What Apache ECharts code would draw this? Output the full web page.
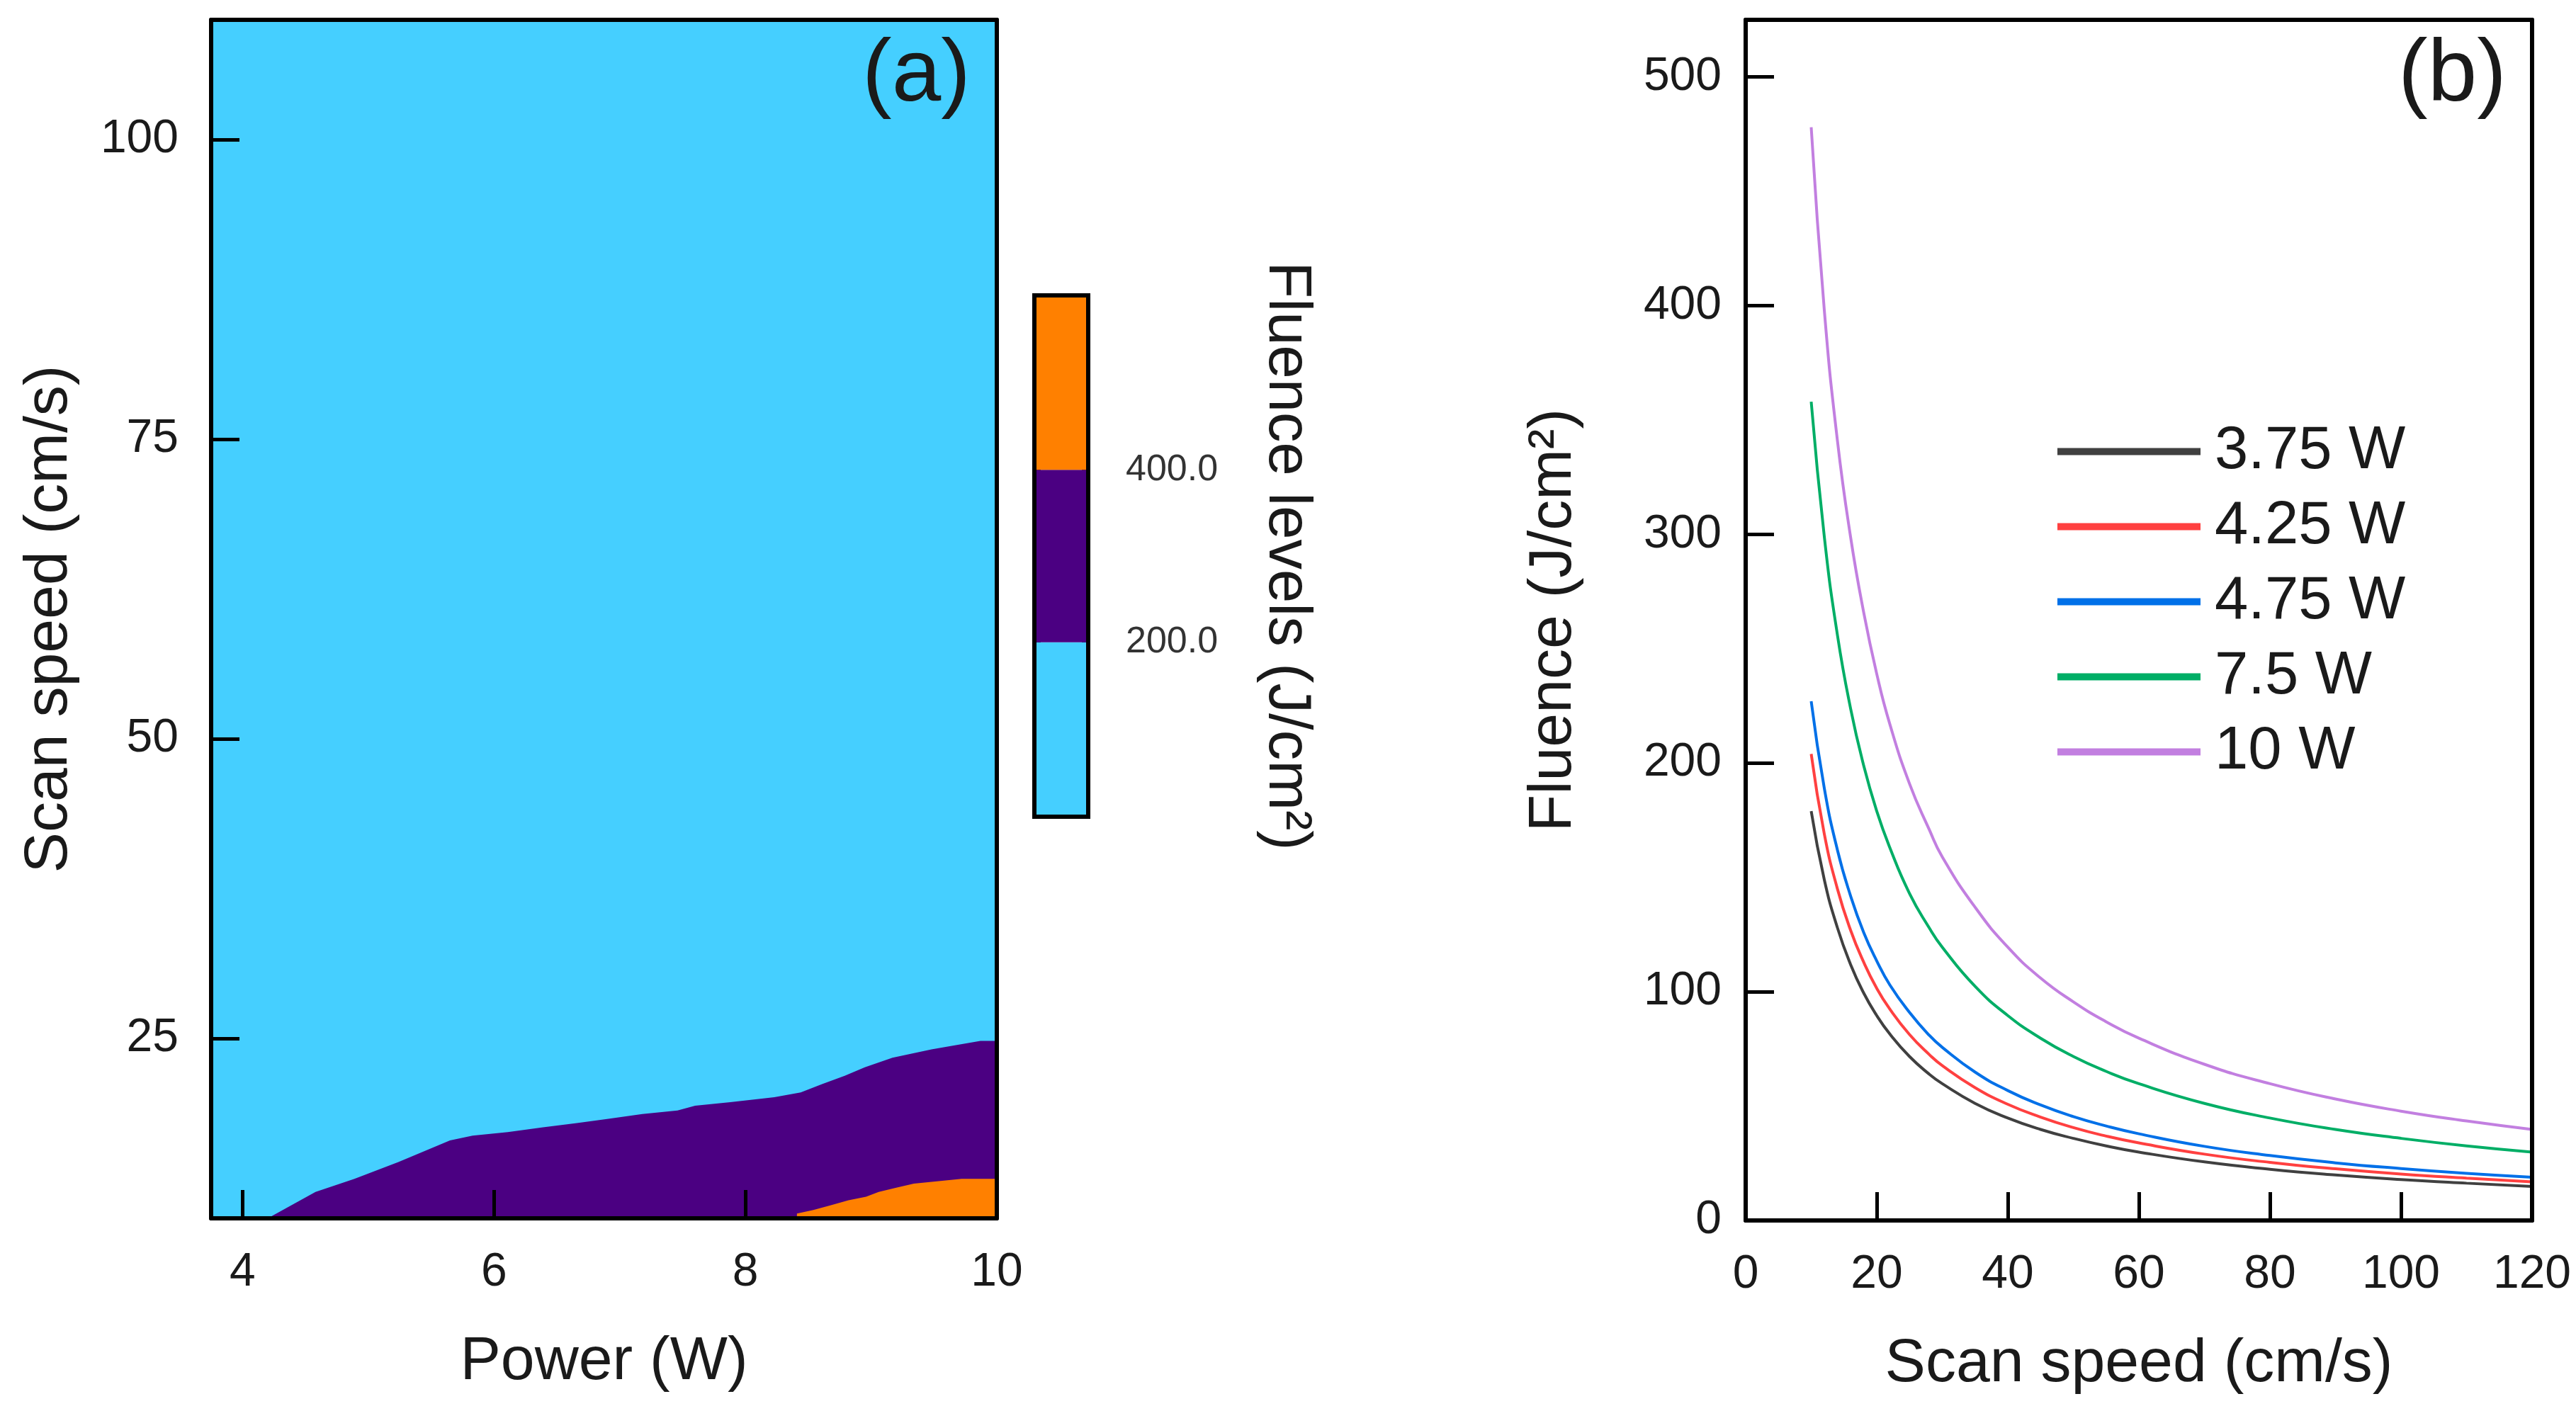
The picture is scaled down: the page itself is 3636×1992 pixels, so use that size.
<!DOCTYPE html>
<html>
<head>
<meta charset="utf-8">
<script src="https://cdn.jsdelivr.net/npm/echarts@6/dist/echarts.min.js"></script>
<style>
  html, body { margin: 0; padding: 0; background: #ffffff; }
  #main { width: 3636px; height: 1992px; }
</style>
</head>
<body>
<div id="main"></div>
<script>
// panel (a): contour boundaries, [power W, scan speed cm/s]
var powerTicks = [4, 6, 8, 10];
var speedTicksA = [25, 50, 75, 100];
var boundary200 = [
    [4.20, 10], [4.58, 12.2], [4.89, 13.3], [5.24, 14.7], [5.65, 16.5], [5.83, 16.9],
    [6.11, 17.2], [6.39, 17.6], [6.66, 17.95], [6.91, 18.3], [7.18, 18.7], [7.46, 19.0],
    [7.60, 19.4], [7.88, 19.7], [8.23, 20.1], [8.44, 20.5], [8.61, 21.2], [8.79, 21.9],
    [8.95, 22.6], [9.17, 23.4], [9.48, 24.1], [9.65, 24.4], [9.87, 24.8], [10, 24.8]
];
var boundary400 = [
    [8.41, 10], [8.41, 10.4], [8.54, 10.7], [8.68, 11.1], [8.82, 11.5], [8.96, 11.8],
    [9.06, 12.2], [9.20, 12.55], [9.34, 12.9], [9.72, 13.3], [10, 13.3]
];
// colour bar levels
var levelSteps = [200, 200, 200];
var levelTicks = [200, 400];
var levelColors = ['#45cfff', '#4b0082', '#ff8000'];

// panel (b): fluence vs scan speed
var scanSpeeds = [10, 12, 14, 16, 18, 20, 22, 25, 28, 30, 35, 40, 45, 50, 55, 60, 70, 80, 90, 100, 110, 120];
var seriesNames = ['3.75 W', '4.25 W', '4.75 W', '7.5 W', '10 W'];
var fluence375 = [179, 149, 128, 112, 99.5, 89.6, 81.5, 71.7, 64, 59.8, 51.2, 44.8, 39.8, 35.9, 32.6, 29.9, 25.6, 22.4, 19.9, 17.9, 16.3, 14.9];
var fluence425 = [204, 169, 145, 127, 113, 101.5, 92.4, 81.3, 72.6, 67.7, 58.1, 50.8, 45.2, 40.6, 36.9, 33.9, 29, 25.4, 22.6, 20.3, 18.5, 16.9];
var fluence475 = [227, 189, 162, 142, 126, 113.5, 103, 91, 81, 75.7, 64.9, 56.8, 50.5, 45.4, 41.3, 37.9, 32.4, 28.4, 25.2, 22.7, 20.6, 18.9];
var fluence75 = [358, 299, 256, 224, 199, 179, 163, 143, 128, 119.5, 102.4, 89.6, 79.7, 71.7, 65.2, 59.8, 51.2, 44.8, 39.8, 35.9, 32.6, 29.9];
var fluence10 = [478, 398, 341, 299, 266, 239, 217, 191, 171, 159, 137, 119.5, 106, 95.6, 86.9, 79.7, 68.3, 59.8, 53.1, 47.8, 43.5, 39.8];
var fluenceTicks = [0, 100, 200, 300, 400, 500];
var speedTicksB = [0, 20, 40, 60, 80, 100, 120];
var lineColors = ['#404040', '#ff4040', '#0070e8', '#00ae66', '#c27fe0'];

var FONT = '"Liberation Sans", Arial, sans-serif';
var TXT = '#1a1a1a';

function pairs(xs, ys) {
    return xs.map(function (x, i) { return [x, ys[i]]; });
}

function boxAxis(gridIndex, position, min, max) {
    return {
        gridIndex: gridIndex, type: 'value', position: position, min: min, max: max, z: 10,
        axisLine: { show: true, onZero: false, lineStyle: { color: '#000', width: 6 } },
        axisTick: { show: false }, axisLabel: { show: false }, splitLine: { show: false }
    };
}

function mainAxis(gridIndex, position, min, max, ticks, name, nameGap, nameRotate, labelMargin) {
    return {
        gridIndex: gridIndex, type: 'value', position: position, min: min, max: max, z: 10,
        name: name, nameLocation: 'middle', nameGap: nameGap, nameRotate: nameRotate,
        nameTextStyle: { fontFamily: FONT, fontSize: 86, color: TXT },
        axisLine: { show: true, onZero: false, lineStyle: { color: '#000', width: 6 } },
        axisTick: { show: true, inside: true, length: 40, customValues: ticks, lineStyle: { color: '#000', width: 5 } },
        axisLabel: { customValues: ticks, margin: labelMargin, fontFamily: FONT, fontSize: 66, color: TXT },
        splitLine: { show: false }
    };
}

var chart = echarts.init(document.getElementById('main'));

var lineSeries = [fluence375, fluence425, fluence475, fluence75, fluence10].map(function (vals, i) {
    return {
        name: seriesNames[i], type: 'line', xAxisIndex: 2, yAxisIndex: 2,
        data: pairs(scanSpeeds, vals), smooth: true, showSymbol: false, symbol: 'none',
        lineStyle: { color: lineColors[i], width: 4 }, itemStyle: { color: lineColors[i] }
    };
});

var option = {
    backgroundColor: '#ffffff',
    animation: false,
    title: [
        { text: '(a)', left: 1212, top: 40, textStyle: { fontFamily: FONT, fontSize: 125, fontWeight: 'normal', color: TXT } },
        { text: '(b)', left: 3380, top: 40, textStyle: { fontFamily: FONT, fontSize: 125, fontWeight: 'normal', color: TXT } }
    ],
    grid: [
        { left: 298, top: 28, width: 1109, height: 1692, show: true, backgroundColor: levelColors[0], borderWidth: 0 },
        { left: 2464, top: 28, width: 1110, height: 1695 },
        { left: 1463, top: 420, width: 70, height: 730, show: true, borderColor: '#000', borderWidth: 12, backgroundColor: 'transparent' }
    ],
    legend: {
        orient: 'vertical', left: 2899, top: 590, itemWidth: 202, itemHeight: 10, itemGap: 21,
        icon: 'rect', data: seriesNames,
        textStyle: { fontFamily: FONT, fontSize: 85, color: TXT, padding: [0, 0, 0, 15] }
    },
    xAxis: [
        mainAxis(0, 'bottom', 3.75, 10, powerTicks, 'Power (W)', 160, 0, 44),
        boxAxis(0, 'top', 3.75, 10),
        mainAxis(1, 'bottom', 0, 120, speedTicksB, 'Scan speed (cm/s)', 160, 0, 44),
        boxAxis(1, 'top', 0, 120),
        { gridIndex: 2, type: 'category', data: [''], show: false }
    ],
    yAxis: [
        mainAxis(0, 'left', 10, 110, speedTicksA, 'Scan speed (cm/s)', 185, 90, 46),
        boxAxis(0, 'right', 10, 110),
        mainAxis(1, 'left', 0, 525, fluenceTicks, 'Fluence (J/cm²)', 228, 90, 34),
        boxAxis(1, 'right', 0, 525),
        {
            gridIndex: 2, type: 'value', position: 'right', min: 0, max: 600,
            name: 'Fluence levels (J/cm²)', nameLocation: 'middle', nameGap: 240, nameRotate: -90,
            nameTextStyle: { fontFamily: FONT, fontSize: 85, color: TXT },
            axisLine: { show: false }, axisTick: { show: false }, splitLine: { show: false },
            axisLabel: {
                customValues: levelTicks, margin: 56, fontFamily: FONT, fontSize: 52, color: '#333',
                formatter: function (v) { return v.toFixed(1); }
            }
        }
    ],
    series: [
        {
            name: 'level 200', type: 'line', xAxisIndex: 0, yAxisIndex: 0, data: boundary200,
            symbol: 'none', lineStyle: { width: 0 }, areaStyle: { color: levelColors[1], opacity: 1, origin: 'start' }, z: 2
        },
        {
            name: 'level 400', type: 'line', xAxisIndex: 0, yAxisIndex: 0, data: boundary400,
            symbol: 'none', lineStyle: { width: 0 }, areaStyle: { color: levelColors[2], opacity: 1, origin: 'start' }, z: 3
        }
    ].concat(levelSteps.map(function (v, i) {
        return {
            type: 'bar', xAxisIndex: 4, yAxisIndex: 4, stack: 'bar', data: [v], barWidth: '100%',
            itemStyle: { color: levelColors[i] }, z: 1
        };
    })).concat(lineSeries)
};

chart.setOption(option);
</script>
</body>
</html>
